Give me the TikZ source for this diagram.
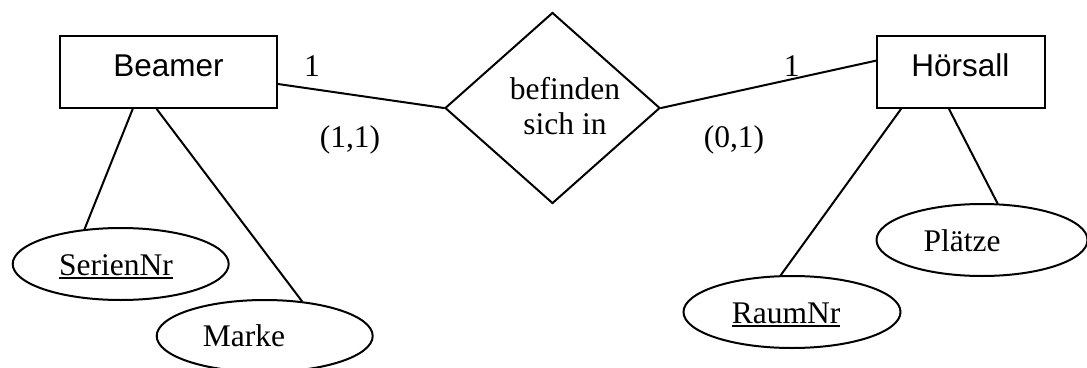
\documentclass[tikz,border=0pt]{standalone}
\usepackage{fontspec}
\setmainfont{Liberation Serif}
\newfontfamily\erSans{Liberation Sans}
\usetikzlibrary{shapes.geometric}
\newcommand\keyul[1]{\setbox0\hbox{#1}\rlap{\rule[-3.5pt]{\wd0}{1.8pt}}\box0}
\tikzset{
  ln/.style={line width=2pt, line cap=round, line join=miter},
  entity/.style={draw, ln, rectangle, inner sep=0pt},
  attrib/.style={draw, ln, ellipse, inner sep=0pt, minimum width=216pt, minimum height=72pt},
  relship/.style={draw, ln, diamond, inner sep=0pt, minimum width=215pt, minimum height=191pt},
  serif/.style={font=\fontsize{31.5}{35}\selectfont, inner sep=0pt, anchor=base},
  sans/.style={font=\erSans\fontsize{31.5}{36}\selectfont, inner sep=0pt, anchor=base},
}
\begin{document}
\begin{tikzpicture}[x=1pt,y=-1pt]
\useasboundingbox (0,0) rectangle (1087,367);
% shapes
\node[entity, minimum width=217pt, minimum height=72pt] (beamer) at (168.5,72) {};
\node[entity, minimum width=168pt, minimum height=72pt] (hoersall) at (960.8,72) {};
\node[relship] (rel) at (552.5,108) {};
\node[attrib] (serien) at (120.7,264) {};
\node[attrib] (marke) at (264.7,336) {};
\node[attrib, minimum width=211pt] (plaetze) at (982,240) {};
\node[attrib, minimum width=217pt] (raum) at (792,312) {};
% texts
\node[sans] (tbeamer) at (168.5,76.7) {Beamer};
\node[sans] (thoersall) at (960.3,76.7) {Hörsall};
\node[serif] (trel1) at (565,99.3) {befinden};
\node[serif] (trel2) at (565,134.3) {sich in};
\node[serif] (tserien) at (116,275.7) {\keyul{SerienNr}};
\node[serif] (tmarke) at (244,346.7) {Marke};
\node[serif] (tplaetze) at (962,251) {Plätze};
\node[serif] (traum) at (786,323.3) {\keyul{RaumNr}};
\node[serif] (card1) at (312,76) {1};
\node[serif] (card2) at (350,147) {(1,1)};
\node[serif] (card3) at (791.7,76) {1};
\node[serif] (card4) at (734,147) {(0,1)};
% connectors
\draw[ln] ([yshift=-12pt]beamer.east) -- (rel.west);
\draw[ln] (rel.east) -- ([yshift=11.3pt]hoersall.west);
\draw[ln] ([xshift=-35.8pt]beamer.south) -- (serien.136);
\draw[ln] ([xshift=-11.8pt]beamer.south) -- (marke.43);
\draw[ln] ([xshift=-59.8pt]hoersall.south) -- (raum.107.5);
\draw[ln] ([xshift=-11.8pt]hoersall.south) -- (plaetze.67.6);
\end{tikzpicture}
\end{document}
